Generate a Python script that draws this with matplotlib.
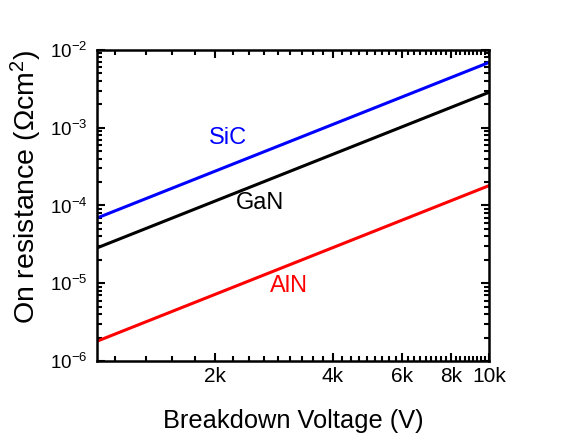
import numpy as np
import matplotlib
matplotlib.use("Agg")
import matplotlib.pyplot as plt
from matplotlib.ticker import FixedLocator, FixedFormatter, LogLocator, NullFormatter

plt.rcParams['font.family'] = ['Liberation Sans', 'DejaVu Sans']
plt.rcParams['mathtext.fontset'] = 'custom'
plt.rcParams['mathtext.rm'] = 'Liberation Sans'
plt.rcParams['mathtext.it'] = 'Liberation Sans:italic'
plt.rcParams['mathtext.bf'] = 'Liberation Sans:bold'

# Data
voltage = [1000, 10000]
sic = [6.9e-5, 6.9e-3]
gan = [2.85e-5, 2.85e-3]
aln = [1.8e-6, 1.8e-4]

x_major = [2000, 4000, 6000, 8000, 10000]
x_labels = ['2k', '4k', '6k', '8k', '10k']
y_major = [1e-6, 1e-5, 1e-4, 1e-3, 1e-2]
y_labels = [r'$10^{-6}$', r'$10^{-5}$', r'$10^{-4}$', r'$10^{-3}$', r'$10^{-2}$']

fig = plt.figure(figsize=(5.72, 4.34), dpi=100)
ax = fig.add_axes([0.1696, 0.168, 0.6853, 0.717])

ax.plot(voltage, sic, color='#0000ff', lw=2.2)
ax.plot(voltage, gan, color='#000000', lw=2.2)
ax.plot(voltage, aln, color='#ff0000', lw=2.2)

ax.set_xscale('log')
ax.set_yscale('log')
ax.set_xlim(1000, 10000)
ax.set_ylim(1e-6, 1e-2)

ax.xaxis.set_major_locator(FixedLocator(x_major))
ax.xaxis.set_major_formatter(FixedFormatter(x_labels))
step = 2000 / 9
minors = [k * step for k in range(1, 46) if 1000 < k * step < 10000 and k % 9 != 0]
ax.xaxis.set_minor_locator(FixedLocator(minors))
ax.xaxis.set_minor_formatter(NullFormatter())

ax.yaxis.set_major_locator(FixedLocator(y_major))
ax.yaxis.set_major_formatter(FixedFormatter(y_labels))
ax.yaxis.set_minor_locator(LogLocator(base=10, subs=np.arange(2, 10), numticks=20))
ax.yaxis.set_minor_formatter(NullFormatter())

for s in ax.spines.values():
    s.set_linewidth(1.8)

ax.tick_params(which='both', direction='in', top=True, right=True, width=1.5)
ax.tick_params(which='major', length=6)
ax.tick_params(axis='x', which='major', pad=4.5, labelsize=15)
ax.tick_params(axis='y', which='major', pad=7, labelsize=13.5)
ax.tick_params(which='minor', length=3.5)

ax.set_xlabel('Breakdown Voltage (V)', fontsize=18.3, labelpad=16)
ax.set_ylabel('On resistance (Ωcm$^2$)', fontsize=20.5, labelpad=5)
ax.yaxis.set_label_coords(-0.135, 0.56)

ax.text(2160, 7.4e-4, 'SiC', color='#0000ff', fontsize=17, ha='center', va='center')
ax.text(2600, 1.08e-4, 'GaN', color='#000000', fontsize=17, ha='center', va='center')
ax.text(3090, 9.2e-6, 'AlN', color='#ff0000', fontsize=17, ha='center', va='center')

fig.savefig('out.png', dpi=100)
